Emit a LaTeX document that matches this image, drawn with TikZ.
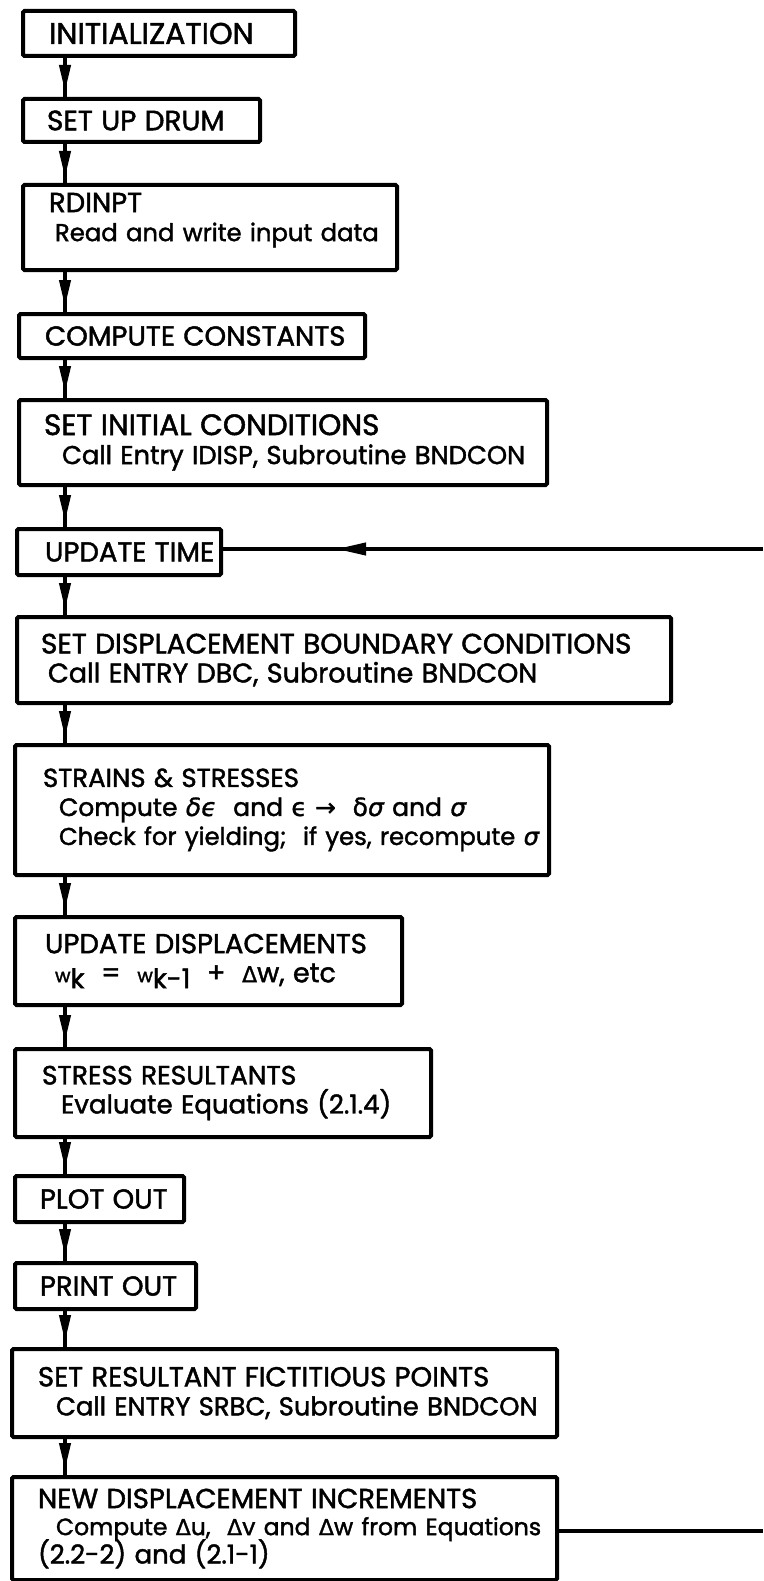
\documentclass[tikz,border=0pt]{standalone}
\usepackage{fontspec}
\setmainfont{Poppins}[FakeBold=1.6]
\newfontfamily\gk{DejaVu Sans}[FakeBold=1.2]
\usetikzlibrary{arrows.meta,decorations.markings}
\newcommand\ttl[2][27.5]{\mbox{\fontsize{#1}{29}\selectfont #2}}
\newcommand\sbt[3][25]{\mbox{\hspace*{#2}\fontsize{#1}{29}\selectfont #3}}
\newcommand\Dl{{\gk\fontsize{22}{22}\selectfont Δ}}
\begin{document}
\begin{tikzpicture}[x=1pt,y=-1pt,
  box/.style={draw, line width=4pt, rounded corners=1.5pt, anchor=north west,
    inner ysep=0pt, align=left, font=\fontsize{25}{29}\selectfont},
  flow/.style={line width=4pt, postaction={decorate},
    decoration={markings, mark=at position -5pt with {\arrow{Triangle[length=27pt,width=11pt]}}}},
  backline/.style={line width=4pt, postaction={decorate},
    decoration={markings, mark=at position 427pt with {\arrow{Triangle[length=30pt,width=12pt]}}}}]
\useasboundingbox (0,0) rectangle (763,1581);
\fill[white] (0,0) rectangle (763,1581);

\node[box, minimum height=45pt, text width=220pt, inner xsep=26pt] (init) at (21,9) {\ttl[30]{INITIALIZATION}};
\node[box, minimum height=43pt, text width=189pt, inner xsep=24pt] (drum) at (21,97) {\ttl[28]{SET UP DRUM}};
\node[box, minimum height=85pt, text width=322pt, inner xsep=26pt] (rdinpt) at (21,183) {\ttl{RDINPT}\\\sbt[24.3]{6pt}{Read and write input data}\\[-8pt]\mbox{}};
\node[box, minimum height=85pt, text width=478pt, inner xsep=25pt] (initcond) at (17,398) {\ttl[29.5]{SET INITIAL CONDITIONS}\\\sbt[25.8]{18pt}{Call Entry IDISP, Subroutine BNDCON}};
\node[box, minimum height=44pt, text width=294pt, inner xsep=26pt] (consts) at (17,312) {\ttl{COMPUTE CONSTANTS}};
\node[box, minimum height=46pt, text width=148pt, inner xsep=28pt] (updtime) at (15,527) {\ttl{UPDATE TIME}};
\node[box, minimum height=86pt, text width=606pt, inner xsep=24pt] (setdisp) at (15,615) {\ttl[28]{SET DISPLACEMENT BOUNDARY CONDITIONS}\\\sbt[27]{7pt}{Call ENTRY DBC, Subroutine BNDCON}};
\node[box, minimum height=130pt, text width=478pt, inner xsep=28pt] (strains) at (13,743) {\ttl[26]{STRAINS \& STRESSES}\\\sbt[25]{16pt}{Compute {\gk\itshape δϵ}\ \ and {\gk ϵ →\ \ δ\itshape σ} and {\gk\itshape σ}}\\\sbt[24.3]{16pt}{Check for yielding;\ \ if yes, recompute {\gk\itshape σ}}};
\node[box, minimum height=88pt, text width=327pt, inner xsep=30pt] (updisp) at (13,915) {\ttl{UPDATE DISPLACEMENTS}\\\sbt[27]{10pt}{{\fontsize{19}{19}\selectfont w}\raisebox{-6pt}{k}\ \ =\ \ {\fontsize{19}{19}\selectfont w}\raisebox{-6pt}{k-1}\ \ +\ \ \Dl w, etc}};
\node[box, minimum height=88pt, text width=362pt, inner xsep=27pt] (stressres) at (13,1047) {\ttl[26.5]{STRESS RESULTANTS}\\\sbt[26]{19pt}{Evaluate Equations (2.1.4)}};
\node[box, minimum height=46pt, text width=119pt, inner xsep=25pt] (plot) at (13,1174) {\ttl{PLOT OUT}};
\node[box, minimum height=46pt, text width=131pt, inner xsep=25pt] (print) at (13,1261) {\ttl{PRINT OUT}};
\node[box, minimum height=88pt, text width=493pt, inner xsep=26pt] (setres) at (10,1347) {\ttl[27.5]{SET RESULTANT FICTITIOUS POINTS}\\\sbt[25.8]{18pt}{Call ENTRY SRBC, Subroutine BNDCON}};
\node[box, minimum height=103pt, text width=493pt, inner xsep=26pt] (newdisp) at (10,1475) {\ttl[27.5]{NEW DISPLACEMENT INCREMENTS}\\[-2pt]\sbt[23.5]{18pt}{Compute \Dl u,\ \ \Dl v and \Dl w from Equations}\\[-3pt]\sbt[26]{0pt}{(2.2-2) and (2.1-1)}};

\coordinate (ax) at (65,0);
\draw[flow] (init.south -| ax) -- (drum.north -| ax);
\draw[flow] (drum.south -| ax) -- (rdinpt.north -| ax);
\draw[flow] (rdinpt.south -| ax) -- (consts.north -| ax);
\draw[flow] (consts.south -| ax) -- (initcond.north -| ax);
\draw[flow] (initcond.south -| ax) -- (updtime.north -| ax);
\draw[flow] (updtime.south -| ax) -- (setdisp.north -| ax);
\draw[flow] (setdisp.south -| ax) -- (strains.north -| ax);
\draw[flow] (strains.south -| ax) -- (updisp.north -| ax);
\draw[flow] (updisp.south -| ax) -- (stressres.north -| ax);
\draw[flow] (stressres.south -| ax) -- (plot.north -| ax);
\draw[flow] (plot.south -| ax) -- (print.north -| ax);
\draw[flow] (print.south -| ax) -- (setres.north -| ax);
\draw[flow] (setres.south -| ax) -- (newdisp.north -| ax);

\coordinate (rA) at (763,1531);
\coordinate (rB) at (763,549);
\draw[line width=4pt] (newdisp.east |- rA) -- (rA);
\draw[backline] (rB) -- (updtime.east |- rB);
\end{tikzpicture}
\end{document}
